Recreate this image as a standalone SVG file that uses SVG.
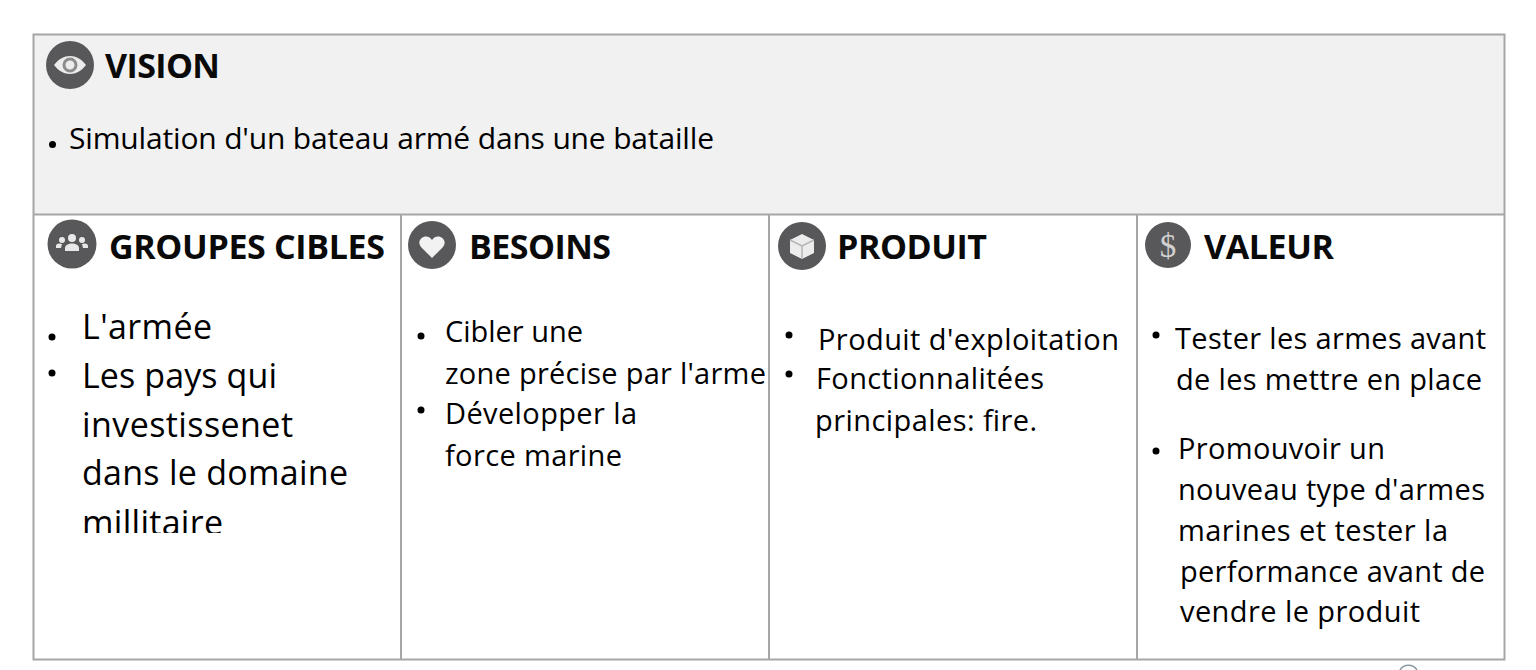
<svg xmlns="http://www.w3.org/2000/svg" width="1536" height="670" viewBox="0 0 1536 670">
<style>
text{font-family:"Open Sans","Noto Sans","Liberation Sans",sans-serif;fill:#000}
.h{font-weight:700;font-size:34px;fill:#0a0a0a}
.t{font-size:29px}
.b{font-size:30px}
.l{font-size:34px}
.ic{fill:#58585a}
.w{fill:#f2f2f2}
.ln{stroke:#a6a6a6;stroke-width:2;fill:none}
</style>
<defs><clipPath id="cl"><rect x="34" y="290" width="366" height="243"/></clipPath></defs>
<rect width="1536" height="670" fill="#fff"/>
<rect x="34" y="35" width="1470" height="180" fill="#f1f1f1"/>
<g id="frame">
<rect class="ln" x="33.500" y="34.500" width="1471" height="625"/>
<path class="ln" d="M34 214.500H1504M401 215V659M769 215V659M1137 215V659"/>
</g>
<path d="M1400 670a10 10 0 0 1 17 0" fill="none" stroke="#8a9aa0" stroke-width="1.500"/>
<g id="vision">
<circle class="ic" cx="70" cy="65" r="24"/>
<path fill="#ececec" d="M54 65c9-12 23-12 32 0c-9 12-23 12-32 0z"/>
<circle cx="70" cy="65" r="6" fill="none" stroke="#8c8c8c" stroke-width="3"/>
<text class="h" x="105" y="78" textLength="115">VISION</text>
<circle cx="52.500" cy="144.500" r="3.500"/>
<text class="b" x="69" y="149" textLength="645">Simulation d'un bateau armé dans une bataille</text>
</g>
<g id="groupes-cibles">
<circle class="ic" cx="72" cy="244" r="24.500"/>
<g fill="#e8e8e8"><circle cx="72" cy="238" r="4"/><circle cx="62" cy="240" r="3"/><circle cx="82" cy="240" r="3"/><path d="M65 251v-3c0-6 14-6 14 0v3z"/><path d="M56 248v-2c0-3 4-3 6-2l-1 4zM88 248v-2c0-3-4-3-6-2l1 4z"/></g>
<text class="h" x="109" y="259" textLength="276">GROUPES CIBLES</text>
<g clip-path="url(#cl)">
<text class="l" x="82" y="339" textLength="130">L'armée</text>
<text class="l" x="82" y="388" textLength="195">Les pays qui</text>
<text class="l" x="82" y="437" textLength="211">investissenet</text>
<text class="l" x="82" y="485" textLength="266">dans le domaine</text>
<text class="l" x="82" y="535" textLength="141">millitaire</text>
</g>
<circle cx="52" cy="337" r="3.500"/><circle cx="52" cy="373" r="3.500"/>
</g>
<g id="besoins">
<circle class="ic" cx="432" cy="245" r="24"/>
<path class="w" d="M432 258l-11-11c-6-8 6-15 11-7c5-8 17-1 11 7z"/>
<text class="h" x="469" y="259" textLength="142">BESOINS</text>
<circle cx="421" cy="336" r="3.500"/><circle cx="421" cy="410" r="3.500"/>
<text class="t" x="445" y="342" textLength="138">Cibler une</text>
<text class="t" x="445" y="384" textLength="321">zone précise par l'arme</text>
<text class="t" x="445" y="424" textLength="192">Développer la</text>
<text class="t" x="445" y="466" textLength="177">force marine</text>
</g>
<g id="produit">
<circle class="ic" cx="802" cy="246" r="24"/>
<path fill="#ececec" d="M802 234l12 6v13l-12 6l-12-6v-13z"/>
<path d="M790 240l12 6l12-6M802 246v13" fill="none" stroke="#b5b5b5" stroke-width="1.500"/>
<text class="h" x="837" y="259" textLength="150">PRODUIT</text>
<circle cx="789" cy="335" r="3.500"/><circle cx="789" cy="374" r="3.500"/>
<text class="t" x="818" y="350" textLength="301">Produit d'exploitation</text>
<text class="t" x="816" y="389" textLength="228">Fonctionnalitées</text>
<text class="t" x="815" y="431" textLength="222">principales: fire.</text>
</g>
<g id="valeur">
<circle class="ic" cx="1168" cy="245" r="23"/>
<text x="1168" y="257" text-anchor="middle" style="font-size:33px;fill:#d0d0d0;font-family:'Liberation Serif',serif">$</text>
<text class="h" x="1204" y="259" textLength="130">VALEUR</text>
<circle cx="1156" cy="335" r="3.500"/><circle cx="1156" cy="451" r="3.500"/>
<text class="t" x="1175" y="349" textLength="311">Tester les armes avant</text>
<text class="t" x="1176" y="390" textLength="306">de les mettre en place</text>
<text class="t" x="1178" y="459" textLength="207">Promouvoir un</text>
<text class="t" x="1178" y="500" textLength="307">nouveau type d'armes</text>
<text class="t" x="1178" y="541" textLength="270">marines et tester la</text>
<text class="t" x="1180" y="582" textLength="305">performance avant de</text>
<text class="t" x="1180" y="622" textLength="240">vendre le produit</text>
</g>
</svg>
